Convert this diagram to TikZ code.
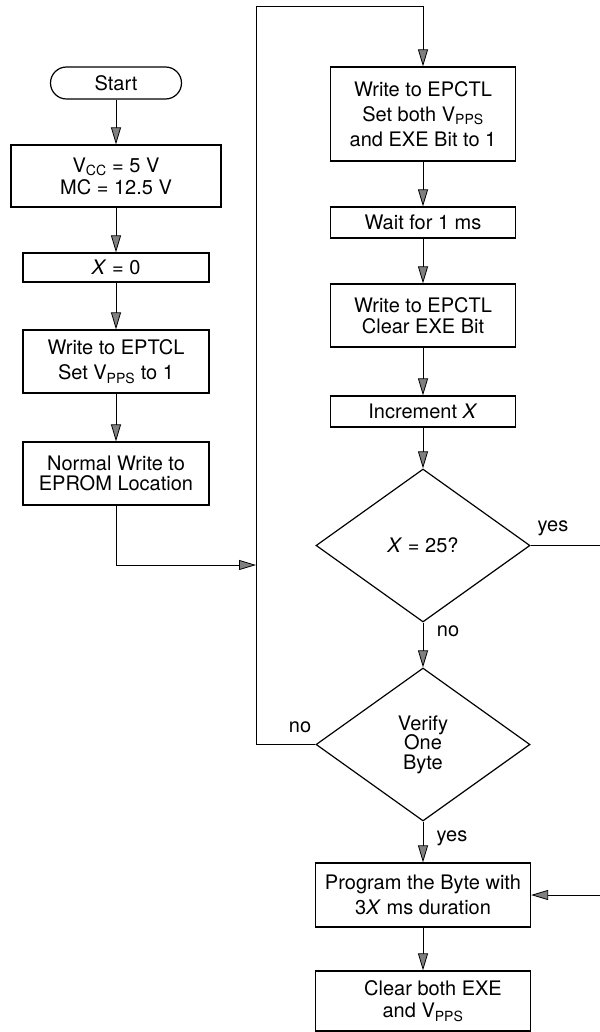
\documentclass[tikz,border=0pt]{standalone}
\usepackage{fontspec}
\setmainfont{TeX Gyre Heros}
\usetikzlibrary{shapes.geometric,arrows.meta}

\begin{document}
\begin{tikzpicture}[x=1pt,y=-1pt,
    box/.style={draw,line width=1.2pt,inner sep=0pt,align=center,
      font=\fontsize{20}{25}\selectfont},
    tight/.style={font=\fontsize{20}{#1}\selectfont},
    term/.style={box,rounded corners=16pt,minimum width=131pt,minimum height=32pt},
    test/.style={box,diamond,aspect=1.4,minimum width=214pt,minimum height=153pt},
    lbl/.style={font=\fontsize{20}{25}\selectfont,inner sep=0pt},
    arrow/.style={line width=0.8pt,-{Triangle[length=17pt,width=10pt,fill=gray]}},
    line/.style={line width=0.8pt}]
    \useasboundingbox (0,0) rectangle (599,1032);
    % Drawing left column
    \node[term] (start) at (116,83) {Start};
    \node[box,tight=22,minimum width=210pt,minimum height=62pt] (vcc) at (116,176)
      {V\textsubscript{CC} = 5 V\\MC = 12.5 V};
    \node[box,minimum width=186pt,minimum height=29pt] (xzero) at (116,267.5)
      {\textit{X} = 0};
    \node[box,minimum width=186pt,minimum height=63pt] (eptcl) at (116,361.5)
      {Write to EPTCL\\Set V\textsubscript{PPS} to 1};
    \node[box,tight=20,minimum width=186pt,minimum height=63pt] (normal) at (116,473.5)
      {Normal Write to\\EPROM Location};
    % Drawing right column
    \node[box,minimum width=185pt,minimum height=94pt] (setexe) at (423,114)
      {Write to EPCTL\\Set both V\textsubscript{PPS}\\and EXE Bit to 1};
    \node[box,minimum width=185pt,minimum height=31pt] (wait) at (423,222.5)
      {Wait for 1 ms};
    \node[box,tight=21,minimum width=185pt,minimum height=63pt] (clrexe) at (423,315.5)
      {Write to EPCTL\\Clear EXE Bit};
    \node[box,minimum width=185pt,minimum height=31pt] (incr) at (423,411.5)
      {Increment \textit{X}};
    \node[test] (count) at (423,545.5) {\textit{X} = 25?};
    \node[test,tight=19.5] (verify) at (423,744.5) {Verify\\One\\Byte};
    \node[box,minimum width=215pt,minimum height=64pt] (prog) at (423,895)
      {Program the Byte with\\3\textit{X} ms duration};
    \node[box,tight=22,minimum width=215pt,minimum height=60pt] (clear) at (423,1001)
      {\hspace{20pt}Clear both EXE\\and V\textsubscript{PPS}};
    % Drawing labels
    \node[lbl] (yesA) at (553,528) {yes};
    \node[lbl] (noA) at (448,631) {no};
    \node[lbl] (noB) at (300,727) {no};
    \node[lbl] (yesB) at (452,838) {yes};
    % Drawing connectors
    \foreach \a/\b in {start/vcc,vcc/xzero,xzero/eptcl,eptcl/normal,
      setexe/wait,wait/clrexe,clrexe/incr,incr/count,count/verify,
      verify/prog,prog/clear}{
      \draw[arrow] (\a.south) -- (\b.north);
    }
    \coordinate (join) at (256,565);
    \coordinate (loop) at (256,6);
    \coordinate (edge) at (602,545.5);
    \draw[arrow] (normal.south) |- (join);
    \draw[arrow] (verify.west) -| (loop) -| (setexe.north);
    \draw[arrow] (count.east) -- (edge) |- (prog.east);
  \end{tikzpicture}
\end{document}
